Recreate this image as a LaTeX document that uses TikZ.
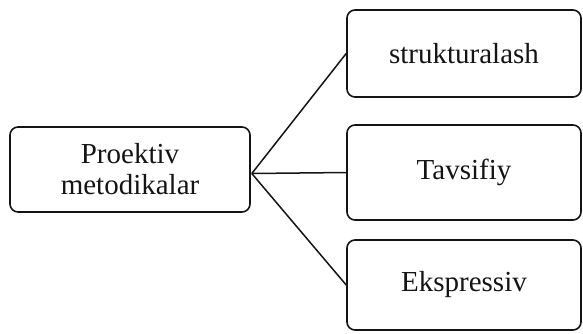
\documentclass[tikz,border=0pt]{standalone}
\usepackage{fontspec}
\setmainfont{Liberation Serif}
\usetikzlibrary{positioning,calc}
\definecolor{ink}{RGB}{20,20,20}

\begin{document}
\begin{tikzpicture}[x=1pt,y=-1pt,
    box/.style={draw=ink,line width=1.6pt,rounded corners=8pt,align=center,
      font=\fontsize{29}{31}\selectfont,text=ink,inner sep=0pt},
    link/.style={draw=ink,line width=1.5pt}]
    \useasboundingbox (0,0) rectangle (583,333);
    \node[box,minimum width=240pt,minimum height=85pt] (root) at (130,169.5)
      {Proektiv\\metodikalar};
    \foreach \name/\y/\h/\lbl in {
      top/53.5/87/strukturalash,
      mid/172.5/95/Tavsifiy,
      bot/285/90/Ekspressiv}{
      \node[box,minimum width=234pt,minimum height=\h pt] (\name) at (464,\y) {\lbl};
      \draw[link] ($(root.east)+(1,4)$) -- (\name.west);
    }
  \end{tikzpicture}
\end{document}
